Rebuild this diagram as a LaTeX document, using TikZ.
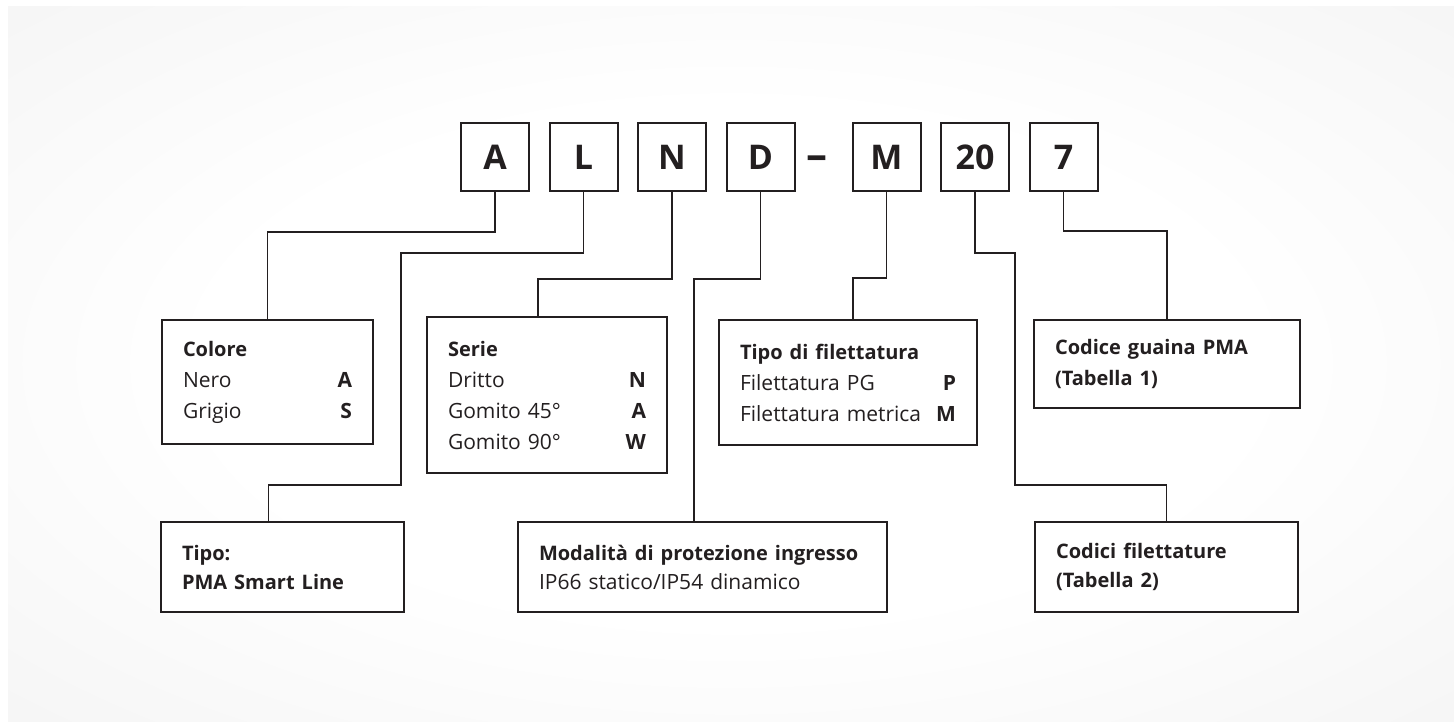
\documentclass[tikz,border=0pt]{standalone}
\usepackage{fontspec}
\setmainfont{Open Sans}
\usetikzlibrary{positioning}
\definecolor{ink}{HTML}{231F20}
\definecolor{bggrey}{HTML}{E2E2E2}
\pgfdeclareradialshading{bgfade}{\pgfpoint{0bp}{0bp}}{color(0bp)=(white); color(18bp)=(white); color(72bp)=(bggrey)}
\newcommand\ttl[1]{{\fontsize{20}{\baselineskip}\selectfont\bfseries #1}}

\begin{document}
\begin{tikzpicture}[x=1pt,y=-1pt,
  code/.style={draw=ink,line width=2pt,fill=white,minimum width=68pt,minimum height=68pt,inner sep=0pt,font=\fontsize{34}{34}\selectfont\bfseries,text=ink},
  box/.style={draw=ink,line width=1.6pt,fill=white,align=left,inner xsep=21pt,inner ysep=0pt,font=\fontsize{21}{31}\selectfont,text=ink},
  low/.style={font=\fontsize{21}{29}\selectfont},
  link/.style={draw=ink,line width=1.3pt}]
\useasboundingbox (0,0) rectangle (1454,721);
\shade[shading=bgfade] (8,6) rectangle (1454,721);

% code letters
\node[code] (codeA) at (495,157) {A};
\node[code,right=18.5pt of codeA] (codeL) {L};
\node[code,right=18.5pt of codeL] (codeN) {N};
\node[code,right=18.5pt of codeN] (codeD) {D};
\node[code,right=56pt of codeD] (codeM) {M};
\node[code,right=18.5pt of codeM] (code20) {20};
\node[code,right=18.5pt of code20] (code7) {7};
\node[anchor=base,inner sep=0pt,text=ink,font=\fontsize{42}{42}\selectfont\bfseries] (dash) at (817,169) {–};

% description boxes
\node[box,text width=169pt,minimum height=124pt] (colore) at (267.5,382) {\ttl{Colore}\\Nero\hfill\textbf{A}\\Grigio\hfill\textbf{S}};
\node[box,text width=198pt,minimum height=156pt] (serie) at (547,395) {\ttl{Serie}\\Dritto\hfill\textbf{N}\\Gomito 45°\hfill\textbf{A}\\Gomito 90°\hfill\textbf{W}};
\node[box,text width=216pt,minimum height=125pt] (filett) at (848,382.5) {\ttl{Tipo di filettatura}\\Filettatura PG\hfill\textbf{P}\\Filettatura metrica\hfill\textbf{M}};
\node[box,text width=224pt,minimum height=88pt] (guaina) at (1167,364) {\ttl{Codice guaina PMA}\\\ttl{(Tabella 1)}};
\node[box,low,text width=201pt,minimum height=90pt] (tipo) at (282.5,567) {\ttl{Tipo:}\\\ttl{PMA Smart Line}};
\node[box,low,text width=327pt,minimum height=90pt] (modal) at (702.5,567) {\ttl{Modalità di protezione ingresso}\\IP66 statico/IP54 dinamico};
\node[box,low,text width=221pt,minimum height=90pt] (codici) at (1166.5,567) {\ttl{Codici filettature}\\\ttl{(Tabella 2)}};

% connectors
\draw[link] (codeA.south) -- ++(0,40) -| (colore.north);
\draw[link] (codeL.south) -- ++(0,61) -| ++(-182.5,232) -| ([xshift=-14pt]tipo.north);
\draw[link] (codeN.south) -- ++(0,87) -| ([xshift=-9pt]serie.north);
\draw[link] (codeD.south) -- ++(0,87) -| ([xshift=-8.5pt]modal.north);
\draw[link] (codeM.south) -- ++(0,86) -| ([xshift=5pt]filett.north);
\draw[link] (code20.south) -- ++(0,61) -| ++(40,232) -| (codici.north);
\draw[link] (code7.south) -- ++(0,39) -| (guaina.north);
\end{tikzpicture}
\end{document}
